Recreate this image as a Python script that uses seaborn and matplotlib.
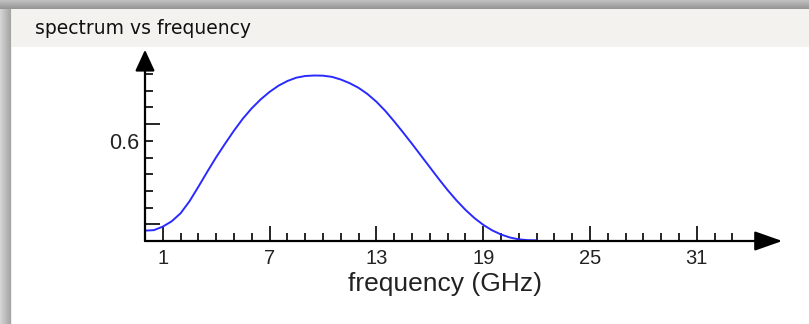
import numpy as np
import matplotlib
matplotlib.use("Agg")
import matplotlib.pyplot as plt
import seaborn as sns

# ---- data ----
freq = [0.0, 0.5, 1.0, 1.5, 2.0, 2.5, 3.0, 3.5, 4.0, 4.5, 5.0, 5.5, 6.0, 6.5,
        7.0, 7.5, 8.0, 8.5, 9.0, 9.5, 10.0, 10.5, 11.0, 11.5, 12.0, 12.5,
        13.0, 13.5, 14.0, 14.5, 15.0, 15.5, 16.0, 16.5, 17.0, 17.5, 18.0,
        18.5, 19.0, 19.5, 20.0, 20.5, 21.0, 21.5, 22.0]
spectrum = [0.062, 0.065, 0.086, 0.118, 0.166, 0.238, 0.325, 0.415, 0.502,
            0.583, 0.661, 0.733, 0.795, 0.848, 0.893, 0.930, 0.958, 0.978,
            0.988, 0.991, 0.990, 0.983, 0.967, 0.945, 0.917, 0.880, 0.834,
            0.779, 0.716, 0.650, 0.582, 0.512, 0.442, 0.372, 0.305, 0.243,
            0.187, 0.138, 0.097, 0.064, 0.039, 0.021, 0.010, 0.005, 0.004]
x_major = [1, 7, 13, 19, 25, 31]
x_major_labels = ["1", "7", "13", "19", "25", "31"]
x_minor = list(range(1, 34))
y_major = [0.1, 0.7]
y_minor = [0.1, 0.2, 0.3, 0.4, 0.5, 0.6, 0.7, 0.8, 0.9, 1.0]
y_minor_labels = ["", "", "", "", "", "0.6", "", "", "", ""]
title = "spectrum vs frequency"
xlabel = "frequency (GHz)"

sns.set_style("white")
plt.rcParams["font.family"] = ["Liberation Sans", "DejaVu Sans"]

W, H = 809, 324
fig = plt.figure(figsize=(W / 100, H / 100), dpi=100)

# ---- window chrome background ----
bg = np.ones((H, W, 3))
bg[9:47, :, :] = np.array([243, 242, 238]) / 255.0
top = np.linspace(192, 150, 9) / 255.0
for i, v in enumerate(top):
    bg[i, :, :] = v
left = np.linspace(212, 165, 11) / 255.0
for j, v in enumerate(left):
    bg[9:, j, :] = v
bg[9:, 11, :] = 0.93
ax_bg = fig.add_axes([0, 0, 1, 1])
ax_bg.imshow(bg, aspect="auto", extent=(0, W, H, 0), interpolation="nearest")
ax_bg.set_xlim(0, W)
ax_bg.set_ylim(H, 0)
ax_bg.axis("off")
ax_bg.text(35, 29, title, fontsize=13.5, family=["DejaVu Sans"],
           color="#111111", va="center", ha="left")

# ---- plot axes ----
px_left, px_right = 145, 790
px_bottom, px_top = 241, 45
ax = fig.add_axes([px_left / W, (H - px_bottom) / H,
                   (px_right - px_left) / W, (px_bottom - px_top) / H])
ax.patch.set_alpha(0)
sns.lineplot(x=freq, y=spectrum, ax=ax, color="#2a2aff", linewidth=1.4)

xpx = 17.8  # px per GHz
ypx = 16.7  # px per 0.1
ax.set_xlim(0, (px_right - px_left) / xpx)
ax.set_ylim(0, (px_bottom - px_top) / ypx / 10)

for s in ax.spines.values():
    s.set_visible(False)

# axis lines with arrows
ax.annotate("", xy=(35.8, 0), xytext=(0, 0), xycoords="data",
            arrowprops=dict(arrowstyle="-|>,head_length=1.7,head_width=0.6",
                            mutation_scale=10, color="black", lw=1.6,
                            shrinkA=0, shrinkB=0), annotation_clip=False)
ax.annotate("", xy=(0, 1.145), xytext=(0, 0), xycoords="data",
            arrowprops=dict(arrowstyle="-|>,head_length=1.3,head_width=0.6",
                            mutation_scale=10, color="black", lw=1.6,
                            shrinkA=0, shrinkB=0), annotation_clip=False)

ax.set_xticks(x_major)
ax.set_xticklabels(x_major_labels)
ax.set_xticks(x_minor, minor=True)
ax.set_yticks(y_major)
ax.set_yticklabels(["", ""])
ax.set_yticks(y_minor, minor=True)
ax.set_yticklabels(y_minor_labels, minor=True)

ax.tick_params(axis="x", which="major", direction="in", length=11, width=1.2,
               color="black", bottom=True, labelbottom=True, labelsize=14.5,
               pad=5.5, labelcolor="#222222")
ax.tick_params(axis="x", which="minor", direction="in", length=6, width=1.2,
               color="black", bottom=True, labelbottom=False)
ax.tick_params(axis="y", which="major", direction="in", length=11, width=1.2,
               color="black", left=True, labelleft=False)
ax.tick_params(axis="y", which="minor", direction="in", length=6, width=1.2,
               color="black", left=True, labelleft=True, labelsize=15.5,
               pad=4, labelcolor="#222222")

ax.set_xlabel(xlabel, fontsize=19, color="#222222")
ax.xaxis.set_label_coords((445 - px_left) / (px_right - px_left),
                          (px_bottom - 284) / (px_bottom - px_top))
ax.xaxis.label.set_va("center")
ax.set_ylabel("")

fig.savefig("out.png", dpi=100)
